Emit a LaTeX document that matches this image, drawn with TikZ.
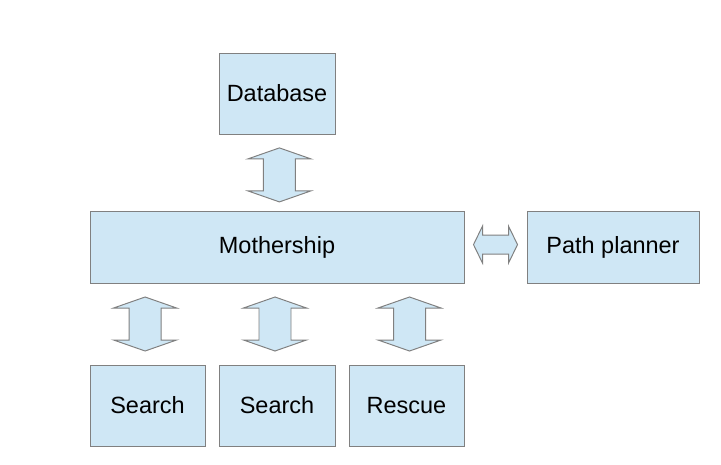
\documentclass[tikz,border=0pt]{standalone}
\usepackage{fontspec}
\setmainfont{Liberation Sans}
\usetikzlibrary{calc}

\definecolor{boxfill}{RGB}{207,231,245}
\definecolor{boxline}{RGB}{128,128,128}

\tikzset{
	block/.style={draw=boxline, fill=boxfill, line width=.7pt, inner sep=0pt,
		minimum width=2.9cm, minimum height=2.025cm, font=\fontsize{16.7}{20}\selectfont},
	arrowfill/.style={draw=boxline, fill=boxfill, line width=.7pt, line join=miter},
	updown/.pic={\draw[arrowfill] (0,.675) -- (.7875,.4) -- (.4,.4) -- (.4,-.4) -- (.7875,-.4)
		-- (0,-.675) -- (-.7875,-.4) -- (-.4,-.4) -- (-.4,.4) -- (-.7875,.4) -- cycle;},
	leftright/.pic={\draw[arrowfill] (-.55,0) -- (-.325,.4625) -- (-.325,.2375) -- (.325,.2375)
		-- (.325,.4625) -- (.55,0) -- (.325,-.4625) -- (.325,-.2375) -- (-.325,-.2375)
		-- (-.325,-.4625) -- cycle;}
}

\begin{document}
\begin{tikzpicture}
	\useasboundingbox (0,0) rectangle (18.025,-11.6);
	
	\node[block] (db) at (6.925,-2.3375) {Database};
	\node[block, minimum width=9.35cm, minimum height=1.8cm] (ms) at (6.925,-6.175) {Mothership};
	\node[block, minimum width=4.3cm, minimum height=1.8cm] (pp) at (15.325,-6.175) {Path planner};
	
	\node[block, minimum width=2.875cm] (search1) at (3.6875,-10.1375) {Search};
	\node[block] (search2) at (6.925,-10.1375) {Search};
	\node[block, minimum width=2.875cm] (rescue) at (10.1625,-10.1375) {Rescue};
	
	% block arrows between the boxes
	\coordinate (dbms) at ($(db.south)!.5!(ms.north)+(.06,-.06)$);
	\coordinate (mspp) at ($(ms.east)!.5!(pp.west)+(0,.06)$);
	\coordinate (mss1) at ($(search1.north)!.5!(search1.north|-ms.south)+(-.06,0)$);
	\coordinate (mss2) at ($(search2.north)!.5!(search2.north|-ms.south)+(-.05,0)$);
	\coordinate (msr) at ($(rescue.north)!.5!(rescue.north|-ms.south)+(.075,0)$);
	
	\pic at (dbms) {updown};
	\pic at (mspp) {leftright};
	\pic at (mss1) {updown};
	\pic at (mss2) {updown};
	\pic at (msr) {updown};
\end{tikzpicture}
\end{document}
